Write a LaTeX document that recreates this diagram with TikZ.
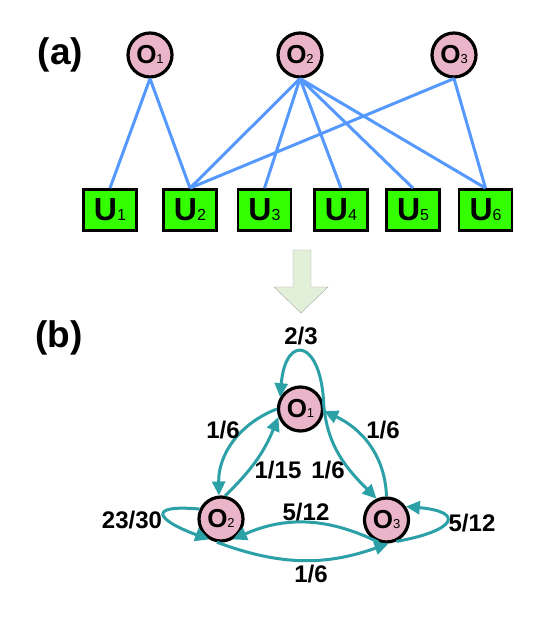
\documentclass[tikz,border=0pt]{standalone}
\usepackage{fontspec}
\setmainfont{Liberation Sans}
\usepackage{tikz}
\usetikzlibrary{arrows.meta}
\definecolor{Offer}{RGB}{234, 181, 201}
\definecolor{User}{RGB}{51, 255, 0}
\definecolor{Link}{RGB}{85, 153, 255}
\definecolor{Trans}{RGB}{44, 160, 167}
\definecolor{Hint}{RGB}{226, 240, 217}
\newcommand{\Oname}[1]{O{\fontsize{13}{13}\selectfont\mdseries #1}}
\newcommand{\Uname}[1]{U{\fontsize{16}{16}\selectfont\mdseries #1}}

\begin{document}
\begin{tikzpicture}[x=1pt, y=1pt,
    offer/.style={circle, draw, line width=3.2pt, fill=Offer, minimum size=44pt, inner sep=0pt,
        font=\fontsize{26}{26}\selectfont\bfseries},
    user/.style={rectangle, draw, line width=2.8pt, fill=User, minimum width=53pt, minimum height=41pt,
        inner sep=0pt, font=\fontsize{32}{32}\selectfont\bfseries},
    link/.style={Link, line width=3pt},
    trans/.style={Trans, line width=3pt, -{Triangle[length=14pt, width=13pt]}},
    weight/.style={font=\fontsize{24}{24}\selectfont\bfseries, inner sep=0pt},
    tag/.style={font=\fontsize{37}{37}\selectfont\bfseries, inner sep=0pt}]
    %%Background
    \useasboundingbox (0,0) rectangle (545,624);

    %% (a) offers and users
    \node[offer] (o1) at (150,569) {\Oname{1}};
    \node[offer] (o2) at (300,569) {\Oname{2}};
    \node[offer] (o3) at (454,569) {\Oname{3}};

    \node[user] (u1) at (110,414) {\Uname{1}};
    \node[user] (u2) at (190,414) {\Uname{2}};
    \node[user] (u3) at (264.5,414) {\Uname{3}};
    \node[user] (u4) at (341,414) {\Uname{4}};
    \node[user] (u5) at (413,414) {\Uname{5}};
    \node[user] (u6) at (485.5,414) {\Uname{6}};

    \draw[link]
    (o1.south) -- (u1.north)
    (o1.south) -- (u2.north)
    (o2.south) -- (u2.north)
    (o2.south) -- (u3.north)
    (o2.south) -- (u4.north)
    (o2.south) -- (u5.north)
    (o2.south) -- (u6.north)
    (o3.south) -- (u2.north)
    (o3.south) -- (u6.north)
    ;

    %% arrow between (a) and (b)
    \draw[draw=gray!70, fill=Hint]
    (293,374) -- (311,374) -- (311,337) -- (328,337) -- (301,311)
    -- (274,337) -- (293,337) -- cycle;

    %% (b) transition graph
    \node[offer] (s1) at (300.5,215) {\Oname{1}};
    \node[offer] (s2) at (221,105) {\Oname{2}};
    \node[offer] (s3) at (386.5,104) {\Oname{3}};

    \draw[trans] (s1.10) .. controls +(92:65) and +(85:65) .. (s1.150);
    \draw[trans] (s1.180) to[bend right=35] (s2.95);
    \draw[trans] (s2.80) to[bend right=12] (s1.200);
    \draw[trans] (s1.10) to[out=-85, in=135] (s3.115);
    \draw[trans] (s3.90) to[out=92, in=-25] (s1.-5);
    \draw[trans] (s2.155) .. controls +(175:55) and +(160:55) .. (s2.240);
    \draw[trans] (s3.-65) .. controls +(10:60) and +(-5:60) .. (s3.35);
    \draw[trans] (s3.250) to[bend right=25] (s2.-60);
    \draw[trans] (s2.-100) to[bend right=20] (s3.-85);

    \node[weight] (w11) at (301,288) {2/3};
    \node[weight] (w12) at (223,194) {1/6};
    \node[weight] (w21) at (278,154) {1/15};
    \node[weight] (w13) at (328,154) {1/6};
    \node[weight] (w31) at (383,194) {1/6};
    \node[weight] (w22) at (132,104) {23/30};
    \node[weight] (w33) at (472,101) {5/12};
    \node[weight] (w32) at (306,112) {5/12};
    \node[weight] (w23) at (311,50) {1/6};

    \node[tag] (ta) at (60.5,569.5) {(a)};
    \node[tag] (tb) at (59,286.5) {(b)};

\end{tikzpicture}
\end{document}
